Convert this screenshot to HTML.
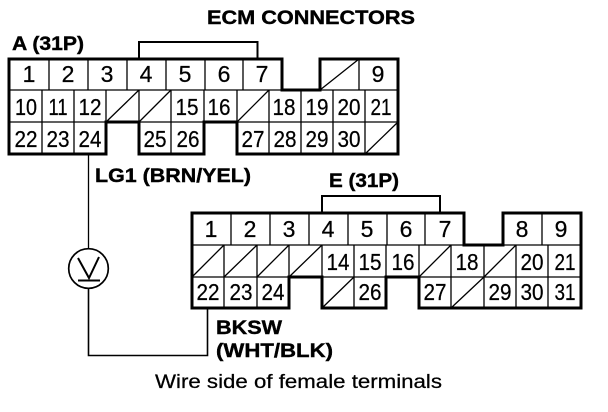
<!DOCTYPE html>
<html><head><meta charset="utf-8"><style>
html,body{margin:0;padding:0;background:#fff}
svg{display:block}
text{font-family:"Liberation Sans",sans-serif;fill:#000}
.n{font-size:23px;text-anchor:middle;stroke:#000;stroke-width:.25px}
.b{font-weight:bold;font-size:19.500px;stroke:#000;stroke-width:.4px}
.t{fill:none;stroke:#000;stroke-width:1.3}
.o{fill:none;stroke:#000;stroke-width:3}
.m{fill:none;stroke:#000;stroke-width:2}
</style></head><body>
<svg width="608" height="412" viewBox="0 0 608 412" xmlns="http://www.w3.org/2000/svg">
<rect width="608" height="412" fill="#fff"/>
<!-- Connector A -->
<path class="m" d="M139,59V42H257.500V59"/>
<path class="t" d="M9,90H398M9,122H398"/>
<path class="t" d="M49,59V90M88,59V90M127,59V90M166,59V90M205,59V90M243,59V90M359,59V90"/>
<path class="t" d="M42,90V122M74,90V122M106,90V122M139,90V122M171,90V122M204,90V122M237,90V122M269,90V122M301,90V122M333,90V122M365,90V122"/>
<path class="t" d="M42,122V154M74,122V154M171,122V154M269,122V154M301,122V154M333,122V154M365,122V154"/>
<path class="t" d="M320,90L359,59M106,122L139,90M139,122L171,90M237,122L269,90M365,154L398,122"/>
<path class="o" d="M9,59H282V90H320V59H398V154H237V122H204V154H139V122H106V154H9Z"/>
<!-- Connector E -->
<path class="m" d="M322,213V196H440V213"/>
<path class="t" d="M192,245H581M192,277H581"/>
<path class="t" d="M231,213V245M270,213V245M309,213V245M348,213V245M387,213V245M425,213V245M542,213V245"/>
<path class="t" d="M224,245V277M257,245V277M289,245V277M322,245V277M354,245V277M386,245V277M419,245V277M451,245V277M484,245V277M516,245V277M548,245V277"/>
<path class="t" d="M224,277V308M257,277V308M354,277V308M451,277V308M484,277V308M516,277V308M548,277V308"/>
<path class="t" d="M192,277L224,245M224,277L257,245M257,277L289,245M289,277L322,245M419,277L451,245M484,277L516,245M322,308L354,277M451,308L484,277"/>
<path class="o" d="M192,213H464V245H503V213H581V308H419V277H386V308H322V277H289V308H192Z"/>
<!-- Wires and meter -->
<path d="M88.500,154V249" fill="none" stroke="#000" stroke-width="1.300"/>
<path d="M88.500,288V355.500H207.500V308" fill="none" stroke="#000" stroke-width="1.600"/>
<circle cx="88.500" cy="268.500" r="19.800" fill="#fff" stroke="#000" stroke-width="1.700"/>
<path d="M78,258L89,278L99,257" fill="none" stroke="#000" stroke-width="2"/>
<path d="M78,280.500H100" fill="none" stroke="#000" stroke-width="2"/>
<!-- Labels -->
<text class="b" x="207" y="24" textLength="208" lengthAdjust="spacingAndGlyphs">ECM CONNECTORS</text>
<text class="b" x="12" y="50" textLength="72" lengthAdjust="spacingAndGlyphs">A (31P)</text>
<text class="b" x="95" y="182" textLength="156" lengthAdjust="spacingAndGlyphs">LG1 (BRN/YEL)</text>
<text class="b" x="329" y="187" textLength="70" lengthAdjust="spacingAndGlyphs">E (31P)</text>
<text class="b" x="216" y="334" textLength="66" lengthAdjust="spacingAndGlyphs">BKSW</text>
<text class="b" x="216" y="357" textLength="117" lengthAdjust="spacingAndGlyphs">(WHT/BLK)</text>
<text x="155" y="388" font-size="19" textLength="287" lengthAdjust="spacingAndGlyphs" stroke="#000" stroke-width=".25">Wire side of female terminals</text>
<!-- A row 1 -->
<g class="n">
<text x="29" y="82">1</text><text x="68" y="82">2</text><text x="107" y="82">3</text><text x="146" y="82">4</text><text x="185" y="82">5</text><text x="224" y="82">6</text><text x="262" y="82">7</text><text x="378" y="82">9</text>
</g>
<!-- A row 2 -->
<g class="n">
<text x="26" y="115" textLength="22" lengthAdjust="spacingAndGlyphs">10</text>
<text x="58" y="115" textLength="19" lengthAdjust="spacingAndGlyphs">11</text>
<text x="90" y="115" textLength="23" lengthAdjust="spacingAndGlyphs">12</text>
<text x="187" y="115" textLength="23" lengthAdjust="spacingAndGlyphs">15</text>
<text x="219" y="115" textLength="23" lengthAdjust="spacingAndGlyphs">16</text>
<text x="284" y="115" textLength="23" lengthAdjust="spacingAndGlyphs">18</text>
<text x="317" y="115" textLength="23" lengthAdjust="spacingAndGlyphs">19</text>
<text x="349" y="115" textLength="23" lengthAdjust="spacingAndGlyphs">20</text>
<text x="381" y="115" textLength="21" lengthAdjust="spacingAndGlyphs">21</text>
</g>
<!-- A row 3 -->
<g class="n">
<text x="26" y="147" textLength="23" lengthAdjust="spacingAndGlyphs">22</text>
<text x="58" y="147" textLength="23" lengthAdjust="spacingAndGlyphs">23</text>
<text x="90" y="147" textLength="23" lengthAdjust="spacingAndGlyphs">24</text>
<text x="155" y="147" textLength="23" lengthAdjust="spacingAndGlyphs">25</text>
<text x="188" y="147" textLength="23" lengthAdjust="spacingAndGlyphs">26</text>
<text x="253" y="147" textLength="23" lengthAdjust="spacingAndGlyphs">27</text>
<text x="285" y="147" textLength="23" lengthAdjust="spacingAndGlyphs">28</text>
<text x="317" y="147" textLength="23" lengthAdjust="spacingAndGlyphs">29</text>
<text x="349" y="147" textLength="23" lengthAdjust="spacingAndGlyphs">30</text>
</g>
<!-- E row 1 -->
<g class="n">
<text x="211" y="237">1</text><text x="250" y="237">2</text><text x="289" y="237">3</text><text x="328" y="237">4</text><text x="367" y="237">5</text><text x="406" y="237">6</text><text x="445" y="237">7</text><text x="522" y="237">8</text><text x="561" y="237">9</text>
</g>
<!-- E row 2 -->
<g class="n">
<text x="338" y="270" textLength="23" lengthAdjust="spacingAndGlyphs">14</text>
<text x="370" y="270" textLength="23" lengthAdjust="spacingAndGlyphs">15</text>
<text x="403" y="270" textLength="23" lengthAdjust="spacingAndGlyphs">16</text>
<text x="467" y="270" textLength="23" lengthAdjust="spacingAndGlyphs">18</text>
<text x="532" y="270" textLength="23" lengthAdjust="spacingAndGlyphs">20</text>
<text x="565" y="270" textLength="21" lengthAdjust="spacingAndGlyphs">21</text>
</g>
<!-- E row 3 -->
<g class="n">
<text x="208" y="300" textLength="23" lengthAdjust="spacingAndGlyphs">22</text>
<text x="241" y="300" textLength="23" lengthAdjust="spacingAndGlyphs">23</text>
<text x="273" y="300" textLength="23" lengthAdjust="spacingAndGlyphs">24</text>
<text x="370" y="300" textLength="23" lengthAdjust="spacingAndGlyphs">26</text>
<text x="435" y="300" textLength="23" lengthAdjust="spacingAndGlyphs">27</text>
<text x="500" y="300" textLength="23" lengthAdjust="spacingAndGlyphs">29</text>
<text x="532" y="300" textLength="23" lengthAdjust="spacingAndGlyphs">30</text>
<text x="565" y="300" textLength="21" lengthAdjust="spacingAndGlyphs">31</text>
</g>
</svg>
</body></html>
